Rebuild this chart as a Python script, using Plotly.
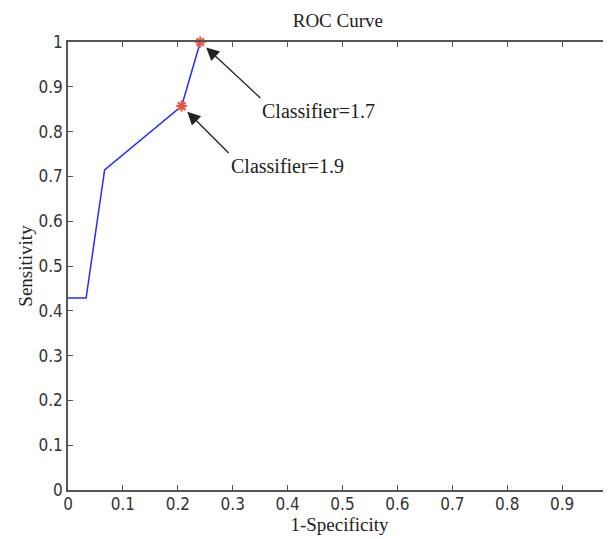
import plotly.graph_objects as go

# ROC data
fpr = [0.0, 0.033, 0.0667, 0.207, 0.241]
tpr = [0.4286, 0.4286, 0.7143, 0.8571, 1.0]

mark_x = [0.207, 0.241]
mark_y = [0.8571, 1.0]
mark_labels = ["Classifier=1.9", "Classifier=1.7"]

x_ticks = [0, 0.1, 0.2, 0.3, 0.4, 0.5, 0.6, 0.7, 0.8, 0.9]
y_ticks = [0, 0.1, 0.2, 0.3, 0.4, 0.5, 0.6, 0.7, 0.8, 0.9, 1]

fig = go.Figure()
fig.add_trace(go.Scatter(x=fpr, y=tpr, mode="lines",
                         line=dict(color="#2b2bff", width=1.5),
                         showlegend=False, cliponaxis=False))
fig.add_trace(go.Scatter(x=mark_x, y=mark_y, mode="markers",
                         marker=dict(symbol="asterisk-open", size=9,
                                     line=dict(color="#ff2a2a", width=2.2)),
                         showlegend=False, cliponaxis=False))

offsets = [(47, 47), (60, 56)]
for xv, yv, lab, (ox, oy) in zip(mark_x, mark_y, mark_labels, offsets):
    fig.add_annotation(x=xv, y=yv, xref="x", yref="y", text=lab,
                       showarrow=True, ax=ox, ay=oy,
                       xanchor="left", yanchor="top",
                       arrowhead=2, arrowsize=2, arrowwidth=1.3,
                       arrowcolor="#222222", standoff=8,
                       font=dict(family="Liberation Serif", size=20, color="#222"))

axis_common = dict(showgrid=False, zeroline=False, showline=True,
                   linecolor="#555555", linewidth=1.5,
                   ticks="inside", ticklen=5, tickcolor="#555555",
                   tickfont=dict(family="Liberation Sans Narrow, DejaVu Sans Condensed, Arial", size=17, color="#333"))

fig.update_layout(
    width=603, height=531,
    margin=dict(l=60, r=0, t=34, b=49),
    plot_bgcolor="white", paper_bgcolor="white",
    title=dict(text="ROC Curve", x=0.547, xanchor="center", y=0.99, yanchor="top",
               font=dict(family="Liberation Serif", size=19, color="#222")),
    xaxis=dict(range=[0, 0.989], tickvals=x_ticks, ticktext=[str(v) for v in x_ticks],
               mirror="ticks", ticklabelstandoff=-2,
               title=dict(text="1-Specificity", standoff=5,
                          font=dict(family="Liberation Serif", size=19, color="#222")),
               **axis_common),
    yaxis=dict(range=[0, 1], tickvals=y_ticks, ticktext=[str(v) for v in y_ticks],
               mirror=False,
               title=dict(text="Sensitivity", standoff=1,
                          font=dict(family="Liberation Serif", size=19, color="#222")),
               **axis_common),
)

fig.write_html("out.html")
